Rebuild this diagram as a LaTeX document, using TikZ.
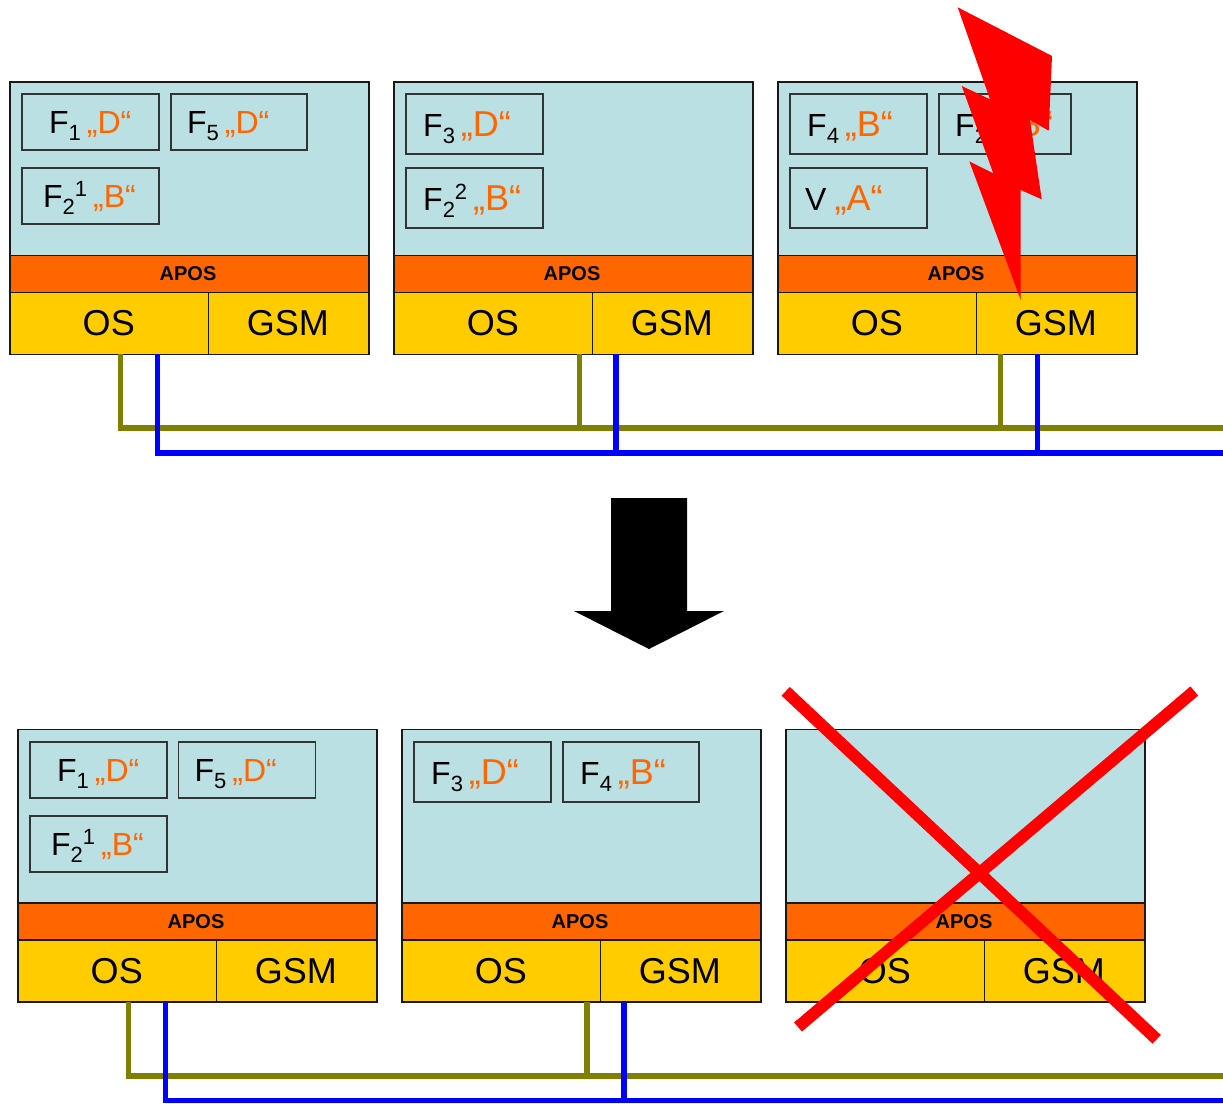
\documentclass[tikz,border=0pt]{standalone}
\usepackage{fontspec}
\setmainfont{Liberation Sans}
\usepackage{tikz}
\usetikzlibrary{calc}

\definecolor{panelblue}{HTML}{BBE0E3}
\definecolor{aposorange}{HTML}{FF6600}
\definecolor{stackyellow}{HTML}{FFCC00}
\definecolor{busolive}{HTML}{808000}
\definecolor{busblue}{HTML}{0000FF}

% size of orange text, F, subscript, superscript, orange letter
\newcommand{\fnlab}[5][32]{#2\raisebox{-7pt}{\fontsize{22}{22}\selectfont #3}\raisebox{11pt}{\fontsize{22}{22}\selectfont #4}\hspace{6pt}{\fontsize{#1}{#1}\selectfont\color{aposorange}„#5“}}

\tikzset{
    band/.style={draw=black!90, line width=1.2pt, inner sep=0pt, outer sep=0pt, anchor=north west},
    fnbox/.style={draw=black!80, line width=1.2pt, inner sep=0pt, outer sep=0pt, anchor=north west},
    fntext/.style={anchor=base west, inner sep=0pt, font=\fontsize{32}{32}\selectfont},
    oliveline/.style={busolive, line width=5.5pt},
    blueline/.style={busblue, line width=5.5pt},
    crossline/.style={red, line width=12pt}
}

\begin{document}
\begin{tikzpicture}[x=1pt, y=-1pt]
    \useasboundingbox (0,0) rectangle (1223,1103);

    % Stations
    \foreach \n/\x/\y in {A/10/82, B/394/82, C/778/82, D/18/729.5, E/402/729.5, F/786/729.5} {
        \node[band, fill=panelblue, minimum width=359pt, minimum height=173.5pt] (panel\n) at (\x,\y) {};
        \node[band, fill=aposorange, minimum width=359pt, minimum height=37pt, font=\bfseries\fontsize{20}{20}\selectfont] (apos\n) at (panel\n.south west) {\hspace*{-3pt}APOS};
        \node[band, fill=stackyellow, minimum width=198.5pt, minimum height=62pt, font=\fontsize{36}{36}\selectfont] (os\n) at (apos\n.south west) {\hspace*{-1pt}\raisebox{1pt}{OS}};
        \node[band, fill=stackyellow, minimum width=160.5pt, minimum height=62pt, font=\fontsize{36}{36}\selectfont] (gsm\n) at (os\n.north east) {\hspace*{-2pt}\raisebox{1pt}{GSM}};
    }

    % Function boxes
    \foreach \i/\x/\y/\w/\h/\t/\b/\lab in {
        a/22/94/137/56/27/11/{\fnlab{F}{1}{}{D}},
        b/171/94/136/56/16/11/{\fnlab{F}{5}{}{D}},
        c/22/168/137/56/21/11/{\fnlab{F}{2}{1}{B}},
        d/406/94/137/60/17/12.5/{\fnlab[36]{F}{3}{}{D}},
        e/406/168/137/60/17/12.5/{\fnlab[36]{F}{2}{2}{B}},
        f/790/94/137/60/17/12.5/{\fnlab[36]{F}{4}{}{B}},
        g/939/94/132/60/16/12.5/{\fnlab[36]{F}{2}{3}{B}},
        h/790/168/137/60/15/12.5/{V\hspace{8pt}{\fontsize{36}{36}\selectfont\color{aposorange}„A“}},
        k/30/742/137/56/27/11/{\fnlab{F}{1}{}{D}},
        l/178.5/742/137/56/16/11/{\fnlab{F}{5}{}{D}},
        m/30/816/137/56/21/11/{\fnlab{F}{2}{1}{B}},
        p/414/742/137/60/17/12.5/{\fnlab[36]{F}{3}{}{D}},
        q/563/742/136/60/17/12.5/{\fnlab[36]{F}{4}{}{B}}} {
        \node[fnbox, minimum width=\w pt, minimum height=\h pt] (fn\i) at (\x,\y) {};
        \node[fntext] (fnlab\i) at ($(fn\i.west)+(\t,\b)$) {\lab};
    }

    % Bus coordinates
    \coordinate (oliveA) at (120.5,354);  \coordinate (oliveBusA) at (120.5,428);
    \coordinate (oliveB) at (579.5,354);  \coordinate (oliveBusB) at (579.5,428);
    \coordinate (oliveC) at (1000.5,354); \coordinate (oliveBusC) at (1000.5,428);
    \coordinate (oliveEnd) at (1223,428);
    \coordinate (blueA) at (157.5,354);   \coordinate (blueBusA) at (157.5,453);
    \coordinate (blueB) at (616,354);     \coordinate (blueBusB) at (616,453);
    \coordinate (blueC) at (1037.5,354);  \coordinate (blueBusC) at (1037.5,453);
    \coordinate (blueEnd) at (1223,453);
    \coordinate (oliveD) at (128.5,1002); \coordinate (oliveBusD) at (128.5,1076);
    \coordinate (oliveE) at (587,1002);   \coordinate (oliveBusE) at (587,1076);
    \coordinate (oliveLow) at (1223,1076);
    \coordinate (blueD) at (165.5,1002);  \coordinate (blueBusD) at (165.5,1100.5);
    \coordinate (blueE) at (624,1002);    \coordinate (blueBusE) at (624,1100.5);
    \coordinate (blueLow) at (1223,1100.5);

    % Upper bus
    \draw[oliveline] (oliveB) -- (oliveBusB);
    \draw[oliveline] (oliveC) -- (oliveBusC);
    \draw[oliveline, line join=miter] (oliveA) -- (oliveBusA) -- (oliveEnd);
    \draw[blueline] (blueB) -- (blueBusB);
    \draw[blueline] (blueC) -- (blueBusC);
    \draw[blueline, line join=miter] (blueA) -- (blueBusA) -- (blueEnd);

    % Lower bus
    \draw[oliveline] (oliveE) -- (oliveBusE);
    \draw[oliveline, line join=miter] (oliveD) -- (oliveBusD) -- (oliveLow);
    \draw[blueline] (blueE) -- (blueBusE);
    \draw[blueline, line join=miter] (blueD) -- (blueBusD) -- (blueLow);

    % Lightning bolt
    \fill[red] (957.7,7.3) -- (1052,56) -- (1048.7,130.7) -- (1030,120) -- (1041.7,199.3)
        -- (1020.7,190) -- (1020.7,300) -- (969.3,161.3) -- (993.3,173.3)
        -- (961.7,86) -- (990,99.3) -- cycle;

    % Big arrow
    \fill[black] (611,498) -- (687,498) -- (687,611) -- (724,611) -- (649,649)
        -- (574,611) -- (611,611) -- cycle;

    % Cross
    \coordinate (crossTL) at (785.7,691.3);
    \coordinate (crossBR) at (1156.7,1039.3);
    \coordinate (crossTR) at (1194.3,691);
    \coordinate (crossBL) at (798,1027);
    \draw[crossline] (crossTL) -- (crossBR);
    \draw[crossline] (crossTR) -- (crossBL);
\end{tikzpicture}
\end{document}
